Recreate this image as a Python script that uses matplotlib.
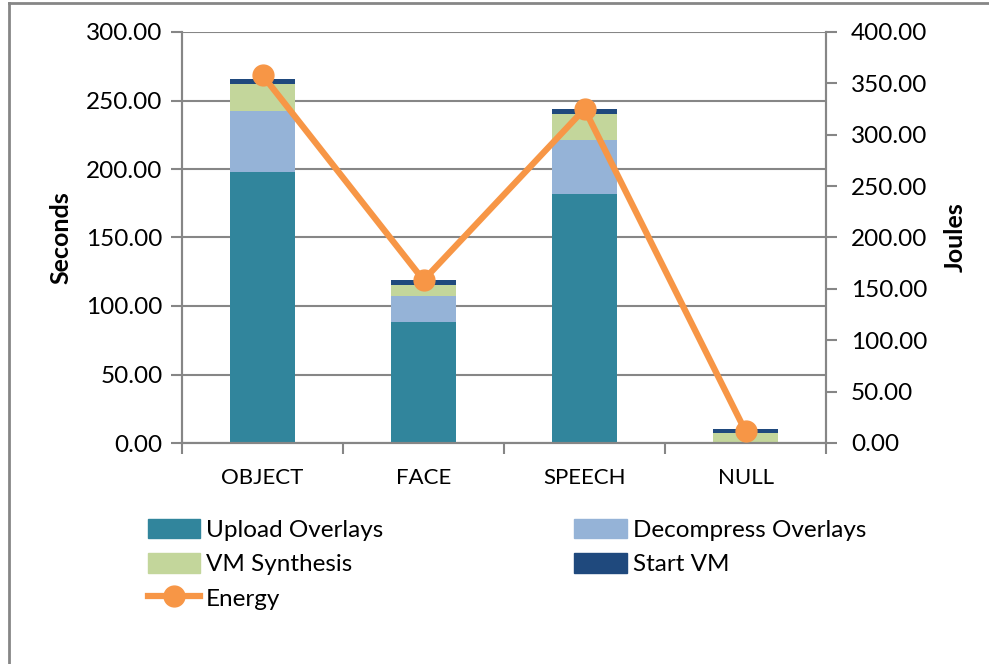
import matplotlib
matplotlib.use("Agg")
import matplotlib.pyplot as plt
import numpy as np
from matplotlib.lines import Line2D
from matplotlib.patches import Patch

plt.rcParams['font.family'] = ['Lato', 'DejaVu Sans']

categories = ["OBJECT", "FACE", "SPEECH", "NULL"]
upload = [198.0, 88.0, 181.5, 0.0]
decompress = [44.0, 19.5, 40.0, 0.0]
synthesis = [20.0, 8.0, 18.5, 7.0]
start_vm = [3.7, 3.4, 3.8, 3.4]
energy = [358.0, 158.5, 325.0, 11.5]

c_upload = "#31859C"
c_decomp = "#95B3D7"
c_synth = "#C3D69B"
c_start = "#1F497D"
c_energy = "#F79646"
grey = "#868686"

fig = plt.figure(figsize=(9.89, 6.64), dpi=100)
ax = fig.add_axes([182 / 989, 1 - 443 / 664, 644 / 989, 411 / 664])
ax2 = ax.twinx()

x = np.arange(len(categories))
w = 0.4
b1 = np.array(upload)
b2 = b1 + np.array(decompress)
b3 = b2 + np.array(synthesis)
ax.bar(x, upload, w, color=c_upload, zorder=2)
ax.bar(x, decompress, w, bottom=b1, color=c_decomp, zorder=2)
ax.bar(x, synthesis, w, bottom=b2, color=c_synth, zorder=2)
ax.bar(x, start_vm, w, bottom=b3, color=c_start, zorder=2)

ax2.plot(x, energy, color=c_energy, lw=4.5, marker="o", ms=15,
         solid_capstyle="round", zorder=3)

ax.set_xlim(-0.5, 3.5)
ax.set_ylim(0, 300)
ax2.set_ylim(0, 400)
ax.set_yticks(np.arange(0, 301, 50))
ax2.set_yticks(np.arange(0, 401, 50))
ax.set_yticklabels([f"{v:.2f}" for v in np.arange(0, 301, 50)])
ax2.set_yticklabels([f"{v:.2f}" for v in np.arange(0, 401, 50)])
ax.yaxis.grid(True, color=grey, lw=1.5, zorder=0)
ax.set_axisbelow(True)

ax.set_xticks(x)
ax.set_xticklabels(categories)
ax.set_xticks(np.arange(-0.5, 4.0, 1.0), minor=True)
ax.tick_params(axis="x", which="major", length=0, pad=18, labelsize=16)
ax.tick_params(axis="x", which="minor", length=8, color=grey, width=1.5)
ax.tick_params(axis="y", length=8, color=grey, width=1.5, labelsize=17.5, pad=6)
ax2.tick_params(axis="y", length=8, color=grey, width=1.5, labelsize=17.5, pad=10)

for a in (ax, ax2):
    a.spines["top"].set_visible(False)
    for s in ("left", "right", "bottom"):
        a.spines[s].set_color(grey)
        a.spines[s].set_linewidth(1.5)

ax.set_ylabel("Seconds", fontsize=18, fontweight="bold", labelpad=10)
ax2.set_ylabel("Joules", fontsize=18, fontweight="bold", rotation=90, labelpad=12)

handles = [
    Patch(color=c_upload, label="Upload Overlays"),
    Patch(color=c_decomp, label="Decompress Overlays"),
    Patch(color=c_synth, label="VM Synthesis"),
    Patch(color=c_start, label="Start VM"),
    Line2D([], [], color=c_energy, lw=4.5, marker="o", ms=15, label="Energy"),
]
order = [0, 2, 4, 1, 3]
fig.legend([handles[i] for i in order], [handles[i].get_label() for i in order],
           ncol=2, loc="upper left", bbox_to_anchor=(126 / 989, 1 - 497 / 664),
           frameon=False, fontsize=17.5, handlelength=2.15, handleheight=0.85,
           columnspacing=7.85, labelspacing=0.5, handletextpad=0.25)

# outer chart frame
fig.add_artist(Line2D([9 / 989, 9 / 989], [0, 1 - 3 / 664], color=grey, lw=2,
                      transform=fig.transFigure))
fig.add_artist(Line2D([9 / 989, 1], [1 - 3 / 664, 1 - 3 / 664], color=grey, lw=2,
                      transform=fig.transFigure))

fig.savefig("out.png", dpi=100)
